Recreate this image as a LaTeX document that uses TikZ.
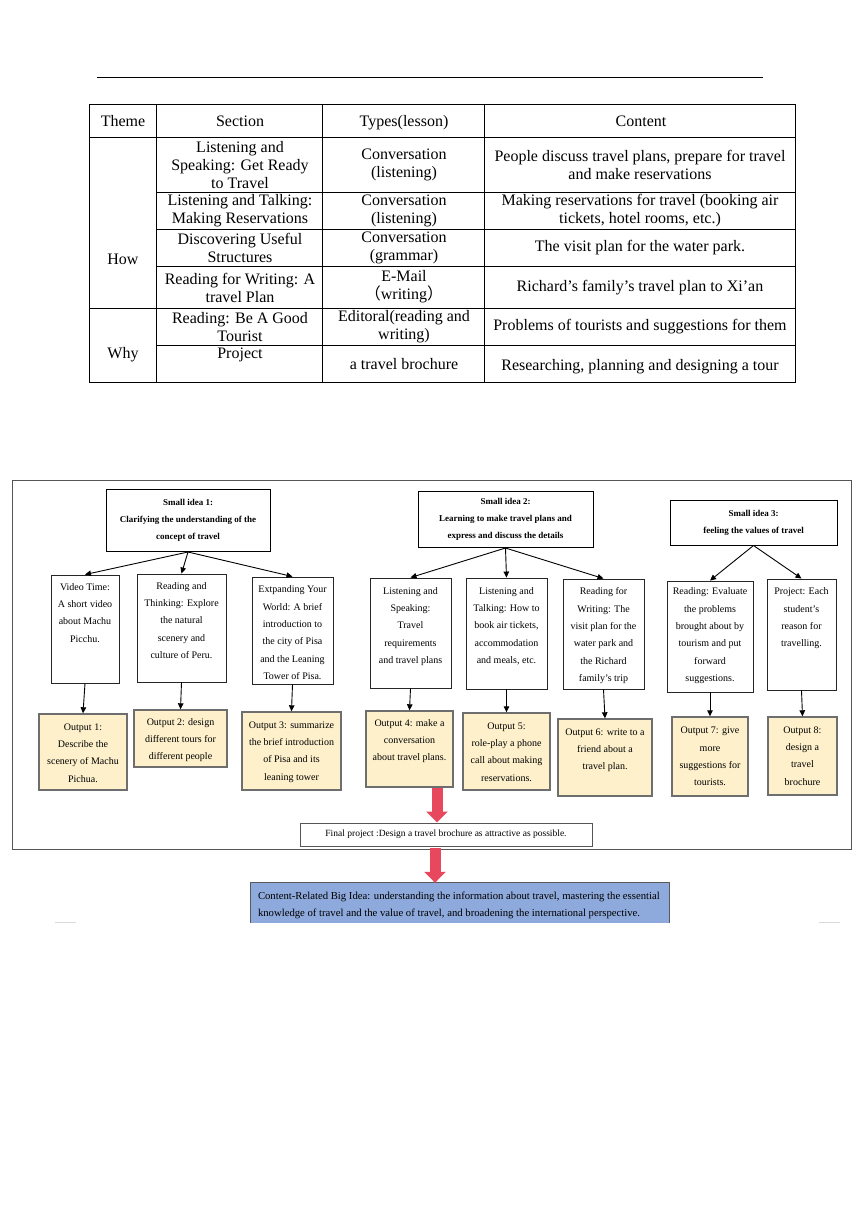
\documentclass[tikz,border=0pt]{standalone}
\usepackage{fontspec}
\setmainfont{Liberation Serif}
\newfontfamily\cjk{Noto Sans CJK SC}
\usetikzlibrary{arrows.meta}
\definecolor{outfill}{HTML}{FDF0CB}
\definecolor{outdraw}{HTML}{6E6E6E}
\definecolor{bigfill}{HTML}{8EA9DB}
\definecolor{bigdraw}{HTML}{5A5A5A}
\definecolor{redc}{HTML}{E8485E}
\definecolor{framec}{HTML}{555555}
\newcommand{\tbx}[4]{\begin{minipage}[c][#2pt][t]{#1pt}\centering\vspace*{#3pt}\strut#4\end{minipage}}
\tikzset{
  tline/.style={line width=0.95pt},
  ttext/.style={font=\fontsize{16}{18}\selectfont, align=center, inner sep=0pt},
  ibox/.style={draw, line width=1pt, fill=white, font=\fontsize{9}{17}\selectfont\bfseries, align=center, inner sep=0pt},
  cbox/.style={draw=black!85, line width=0.9pt, fill=white, font=\fontsize{10}{17.4}\selectfont, inner sep=0pt},
  obox/.style={cbox, draw=outdraw, line width=1.4pt, fill=outfill},
  fbox/.style={draw=framec, line width=1pt, fill=white, font=\fontsize{9.5}{11}\selectfont, inner sep=0pt},
  bbox/.style={fill=bigfill, inner sep=0pt, font=\fontsize{10.7}{17}\selectfont},
  arr/.style={-{Triangle[length=6pt,width=5.5pt]}, line width=0.9pt},
  redarr/.style={draw=redc, line width=11pt, -{Triangle[length=11pt,width=21pt]}},
}
\begin{document}
\begin{tikzpicture}[x=1pt,y=-1pt]
\useasboundingbox[fill=white] (0,0) rectangle (860,1216);

% ---------- table ----------
\draw[line width=1pt] (97,77) -- (763,77);
\draw[tline] (89,104) rectangle (795,382);
\draw[tline] (89,137) -- (795,137);
\draw[tline] (89,308) -- (795,308);
\foreach \yy in {192,229,266,345} \draw[tline] (156,\yy) -- (795,\yy);
\foreach \xx in {156,322,484} \draw[tline] (\xx,104) -- (\xx,382);

\node[ttext] (h1) at (123,121) {Theme};
\node[ttext] (h2) at (240,121) {Section};
\node[ttext] (h3) at (404,123) {Types(lesson)};
\node[ttext] (h4) at (641,121) {Content};
\node[ttext] (how) at (123,259) {How};
\node[ttext] (why) at (123,355) {Why};

\node[ttext] (s1) at (240,165) {Listening and\\Speaking: Get Ready\\to Travel};
\node[ttext] (s2) at (240,211) {Listening and Talking:\\Making Reservations};
\node[ttext] (s3) at (240,248) {Discovering Useful\\Structures};
\node[ttext] (s4) at (240,288) {Reading for Writing: A\\travel Plan};
\node[ttext] (s5) at (240,327) {Reading: Be A Good\\Tourist};
\node[ttext] (s6) at (240,355) {Project};

\node[ttext] (t1) at (404,165) {Conversation\\(listening)};
\node[ttext] (t2) at (404,211) {Conversation\\(listening)};
\node[ttext] (t3) at (404,248) {Conversation\\(grammar)};
\node[ttext] (t4) at (404,287) {E-Mail\\{\cjk （}writing{\cjk ）}};
\node[ttext] (t5) at (404,327) {Editoral(reading and\\writing)};
\node[ttext] (t6) at (404,364) {a travel brochure};

\node[ttext] (c1) at (640,165) {People discuss travel plans, prepare for travel\\and make reservations};
\node[ttext] (c2) at (640,211) {Making reservations for travel (booking air\\tickets, hotel rooms, etc.)};
\node[ttext] (c3) at (640,248) {The visit plan for the water park.};
\node[ttext] (c4) at (640,288) {Richard’s family’s travel plan to Xi’an};
\node[ttext] (c5) at (640,327) {Problems of tourists and suggestions for them};
\node[ttext] (c6) at (640,367) {Researching, planning and designing a tour};

% ---------- diagram ----------
\draw[framec, line width=1pt] (12,480) rectangle (851,849);

\node[ibox, minimum width=164pt, minimum height=62pt] (ib1) at (188,520.5)
  {Small idea 1:\\Clarifying the understanding of the\\concept of travel};
\node[ibox, minimum width=175pt, minimum height=56pt] (ib2) at (505.5,519.5)
  {Small idea 2:\\Learning to make travel plans and\\express and discuss the details};
\node[ibox, minimum width=167pt, minimum height=45pt] (ib3) at (753.5,522.5)
  {Small idea 3:\\feeling the values of travel};

\node[cbox] (vt) at (85,629) {\tbx{68}{108}{3}{Video Time:\\A short video\\about Machu\\Picchu.}};
\node[cbox] (rt) at (181.5,628) {\tbx{89}{108}{3}{Reading and\\Thinking: Explore\\the natural\\scenery and\\culture of Peru.}};
\node[cbox] (ex) at (292.5,630.5) {\tbx{81}{107}{3.5}{Extpanding Your\\World: A brief\\introduction to\\the city of Pisa\\and the Leaning\\Tower of Pisa.}};
\node[cbox] (ls) at (410.5,633) {\tbx{81}{110}{4}{Listening and\\Speaking:\\Travel\\requirements\\and travel plans}};
\node[cbox] (lt) at (506.5,633.5) {\tbx{81}{111}{4}{Listening and\\Talking: How to\\book air tickets,\\accommodation\\and meals, etc.}};
\node[cbox] (rw) at (603.5,634) {\tbx{81}{110}{3.5}{Reading for\\Writing: The\\visit plan for the\\water park and\\the Richard\\family's trip}};
\node[cbox] (re) at (710,636.5) {\tbx{86}{111}{1.5}{Reading: Evaluate\\the problems\\brought about by\\tourism and put\\forward\\suggestions.}};
\node[cbox] (pj) at (801.5,634.5) {\tbx{69}{111}{3.5}{Project: Each\\student's\\reason for\\travelling.}};

\node[obox] (o1) at (83,752) {\tbx{88}{76}{4}{Output 1:\\Describe the\\scenery of Machu\\Pichua.}};
\node[obox] (o2) at (180.5,738.5) {\tbx{93}{57}{3}{Output 2: design\\different tours for\\different people}};
\node[obox] (o3) at (291.5,751) {\tbx{99}{78}{4}{Output 3: summarize\\the brief introduction\\of Pisa and its\\leaning tower}};
\node[obox] (o4) at (409.5,749) {\tbx{87}{76}{3}{Output 4: make a\\conversation\\about travel plans.}};
\node[obox] (o5) at (506.5,751.5) {\tbx{87}{77}{4}{Output 5:\\role-play a phone\\call about making\\reservations.}};
\node[obox] (o6) at (605,757.5) {\tbx{94}{77}{4}{Output 6: write to a\\friend about a\\travel plan.}};
\node[obox] (o7) at (710,756.5) {\tbx{76}{79}{4.5}{Output 7: give\\more\\suggestions for\\tourists.}};
\node[obox] (o8) at (802.5,756) {\tbx{69}{78}{4}{Output 8:\\design a\\travel\\brochure}};

\foreach \a/\b in {ib1/vt, ib1/rt, ib1/ex, ib2/ls, ib2/lt, ib2/rw, ib3/re, ib3/pj}
  \draw[arr] (\a.south) -- (\b.north);
\foreach \a/\b in {vt/o1, rt/o2, ex/o3, ls/o4, lt/o5, rw/o6, re/o7, pj/o8}
  \draw[arr] (\a.south) -- (\b.north);

\node[fbox, minimum width=292pt, minimum height=23pt] (fp) at (446,834.5)
  {Final project :Design a travel brochure as attractive as possible.};

\node[bbox] (bi) at (460,903) {\begin{minipage}[c][40pt][t]{418pt}\leftskip=7pt\vspace*{4.4pt}\strut Content-Related Big Idea: understanding the information about travel, mastering the essential\\knowledge of travel and the value of travel, and broadening the international perspective.\end{minipage}};
\draw[bigdraw, line width=1.1pt] (bi.south west) -- (bi.north west) -- (bi.north east) -- (bi.south east);

\coordinate (r1s) at (437,788);
\draw[redarr] (r1s) -- (r1s |- fp.north);
\coordinate (r2s) at (435,848);
\draw[redarr] (r2s) -- (r2s |- bi.north);

\draw[gray!30, line width=1pt] (55,922) -- (76,922);
\draw[gray!30, line width=1pt] (819,922) -- (840,922);
\end{tikzpicture}
\end{document}
